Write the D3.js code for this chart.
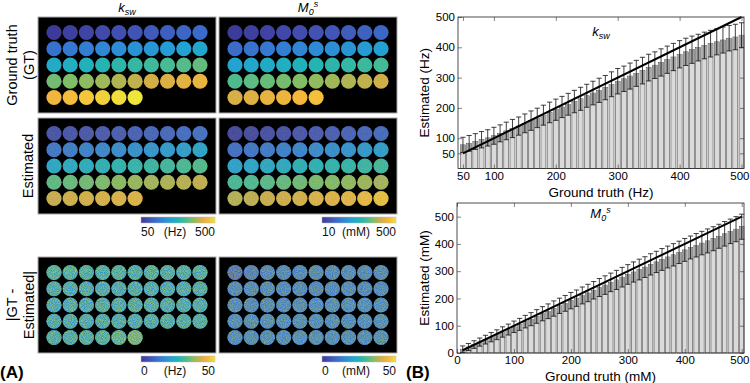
<!DOCTYPE html>
<html lang="en">
<head>
<meta charset="utf-8">
<title>ksw / M0s phantom</title>
<script src="https://cdn.jsdelivr.net/npm/d3@7"></script>
<style>
  body { margin: 0; background: #fff; }
  svg { font-family: "Liberation Sans", Arial, Helvetica, sans-serif; }
</style>
</head>
<body>
<script>

// ---- data ----
var kswGT = [50,60,70,80,90,100,110,120,130,140,150,160,170,180,190,200,210,220,230,240,
             250,260,270,280,290,300,310,320,330,340,350,360,370,380,390,400,410,420,430,440,
             450,460,470,480,490,500];
var kswMean = [78,83,89,95,101,108,116,124,132,140,149,158,167,176,185,194,203,212,221,230,
               240,249,258,267,278,288,296,305,314,323,333,341,350,359,368,377,385,392,399,406,
               412,418,424,430,434,440];
var kswSD = [25,26,26,27,27,28,28,29,30,30,31,32,32,33,34,35,35,36,37,38,
             38,39,40,40,41,42,42,43,43,44,44,44,45,45,45,45,45,45,44,44,
             44,43,43,42,42,41];
// mean |GT - estimated| per vial (Hz), read from the colour of the error map
var kswErr = [26,25,25,25,24,24,24,23,23,23,22,22,22,22,22,22,22,22,22,22,
              22,22,22,22,22,22,22,22,22,22,22,22,22,22,22,22,22,23,23,24,
              23,23,24,25,29,33];

var m0GT = [10,20,30,40,50,60,70,80,90,100,110,120,130,140,150,160,170,180,190,200,
            210,220,230,240,250,260,270,280,290,300,310,320,330,340,350,360,370,380,390,400,
            410,420,430,440,450,460,470,480,490,500];
var m0Mean = [14,22,31,40,49,58,67,77,86,96,105,115,124,134,144,153,163,173,182,192,
              201,211,220,230,240,249,259,268,278,288,297,306,315,325,334,343,352,360,369,378,
              387,395,403,411,419,428,437,446,454,463];
var m0SD = [12,13,14,15,16,17,18,19,20,21,22,23,24,25,26,27,28,28,29,30,
            30,31,32,32,33,34,34,35,36,36,37,38,38,39,39,40,40,41,41,42,
            42,43,43,44,44,44,45,45,46,46];
var m0Err = [7,10,11,12,12,12,12,12,12,12,12,12,12,12,12,12,12,12,12,12,
             12,12,12,12,12,13,13,13,13,13,13,13,13,13,13,13,13,13,13,13,
             13,13,13,13,13,13,13,13,13,13];
// the GT M0 map only shows the first 46 vials
var m0PhantomCount = 46;

var kswXTicks = [50,100,200,300,400,500];
var kswYTicks = [50,100,200,300,400,500];
var m0Ticks = [0,100,200,300,400,500];

// ---- setup ----
var W = 750, H = 383;
var svg = d3.select("body").append("svg").attr("width", W).attr("height", H);
var defs = svg.append("defs");

var parula = d3.piecewise(d3.interpolateRgb, [
    "#3d3b9a","#4350b3","#3b6bca","#2f88d6","#22a2d2","#22b3b7",
    "#47bb93","#86bd62","#d2ae46","#f5b73c","#eee63a"]);

var grad = defs.append("linearGradient").attr("id", "parulaGrad");
grad.selectAll("stop")
    .data(d3.range(0, 21))
    .enter().append("stop")
    .attr("offset", d => (d * 5) + "%")
    .attr("stop-color", d => parula(d / 20));

var panelW = 178, panelH = 96;

// speckle texture for the noisy maps
function addNoise(id, alpha, seed) {
    var f = defs.append("filter").attr("id", id)
                .attr("filterUnits", "userSpaceOnUse")
                .attr("x", 0).attr("y", 0).attr("width", panelW).attr("height", panelH)
                .attr("color-interpolation-filters", "sRGB");
    f.append("feTurbulence").attr("type", "fractalNoise").attr("baseFrequency", 1.1)
     .attr("numOctaves", 1).attr("seed", seed).attr("result", "t");
    f.append("feColorMatrix").attr("in", "t").attr("type", "matrix")
     .attr("values", "1.3 0 0 0 -0.1  0.8 0 0 0 0.27  -1.3 0 0 0 1.2  0 0 0 0 " + alpha)
     .attr("result", "c");
    f.append("feComposite").attr("in", "c").attr("in2", "SourceGraphic").attr("operator", "in");
}
addNoise("nzEst1", 0.16, 2);
addNoise("nzEst2", 0.16, 5);
addNoise("nzErr1", 0.55, 7);
addNoise("nzErr2", 0.45, 11);

var colX = d3.scalePoint().domain(d3.range(10)).range([16, 162]);
var rowY = d3.scalePoint().domain(d3.range(5)).range([15.5, 80.5]);

function imagePanel(x0, y0, vals, lo, hi, noise) {
    var g = svg.append("g").attr("transform", "translate(" + x0 + "," + y0 + ")");
    g.append("rect")
     .attr("width", panelW).attr("height", panelH)
     .attr("fill", "#000").attr("stroke", "#a9a9a9").attr("stroke-width", 1);
    var c = d3.scaleLinear().domain([lo, hi]).range([0, 1]).clamp(true);
    g.selectAll("circle.v")
     .data(vals).enter().append("circle")
     .attr("class", "v")
     .attr("cx", (d, i) => colX(i % 10))
     .attr("cy", (d, i) => rowY(Math.floor(i / 10)))
     .attr("r", 7.6)
     .attr("fill", d => parula(c(d)));
    if (noise) {
        g.append("g").attr("filter", "url(#" + noise + ")")
         .selectAll("circle")
         .data(vals).enter().append("circle")
         .attr("cx", (d, i) => colX(i % 10))
         .attr("cy", (d, i) => rowY(Math.floor(i / 10)))
         .attr("r", 7.6)
         .attr("fill", "#fff");
    }
}

function colorbar(xRight, y, lo, unit, hi) {
    var w = 74;
    svg.append("rect").attr("x", xRight - w).attr("y", y).attr("width", w).attr("height", 6)
       .attr("fill", "url(#parulaGrad)").attr("stroke", "#bbb").attr("stroke-width", 0.5);
    var t = svg.append("g").attr("font-size", "12px").attr("fill", "#111");
    t.append("text").attr("x", xRight - w).attr("y", y + 19).text(lo);
    t.append("text").attr("x", xRight - w / 2 - 3).attr("y", y + 19).attr("text-anchor", "middle").text(unit);
    t.append("text").attr("x", xRight).attr("y", y + 19).attr("text-anchor", "end").text(hi);
}

// ---- (A) maps ----
var colLeft = [38, 219];
var rowTop = [17, 118, 257];

imagePanel(colLeft[0], rowTop[0], kswGT, 50, 500, null);
imagePanel(colLeft[1], rowTop[0], m0GT.slice(0, m0PhantomCount), 10, 500, null);
imagePanel(colLeft[0], rowTop[1], kswMean, 50, 500, "nzEst1");
imagePanel(colLeft[1], rowTop[1], m0Mean, 10, 500, "nzEst2");
imagePanel(colLeft[0], rowTop[2], kswErr, 0, 50, "nzErr1");
imagePanel(colLeft[1], rowTop[2], m0Err, 0, 50, "nzErr2");

colorbar(colLeft[0] + panelW - 1, 217, "50", "(Hz)", "500");
colorbar(colLeft[1] + panelW - 1, 217, "10", "(mM)", "500");
colorbar(colLeft[0] + panelW - 1, 356, "0", "(Hz)", "50");
colorbar(colLeft[1] + panelW - 1, 356, "0", "(mM)", "50");

// column titles
function kswLabel(sel, x, y) {
    var t = sel.append("text").attr("x", x).attr("y", y).attr("text-anchor", "middle")
               .attr("font-size", "13px").attr("font-style", "italic");
    t.append("tspan").text("k");
    t.append("tspan").attr("dy", 3).attr("font-size", "9px").text("sw");
}
function m0Label(sel, x, y) {
    var t = sel.append("text").attr("x", x).attr("y", y).attr("text-anchor", "middle")
               .attr("font-size", "13px").attr("font-style", "italic");
    t.append("tspan").text("M");
    t.append("tspan").attr("dy", 3).attr("font-size", "9px").text("0");
    t.append("tspan").attr("dy", -8).attr("font-size", "9px").text("s");
}
kswLabel(svg, colLeft[0] + panelW / 2, 11.5);
m0Label(svg, colLeft[1] + panelW / 2, 11.5);

// row titles
function rowLabel(lines, cy) {
    var t = svg.append("text").attr("font-size", "14.5px").attr("text-anchor", "middle")
               .attr("transform", "translate(0," + cy + ") rotate(-90)");
    lines.forEach(function(l) {
        t.append("tspan").attr("x", 0).attr("y", l[1]).text(l[0]);
    });
}
rowLabel([["Ground truth", 17], ["(GT)", 34]], rowTop[0] + panelH / 2);
rowLabel([["Estimated", 33]], rowTop[1] + panelH / 2);
rowLabel([["|GT -", 17], ["Estimated|", 34]], rowTop[2] + panelH / 2);

svg.append("text").attr("x", 0).attr("y", 378).attr("font-size", "17px")
   .attr("font-weight", "bold").text("(A)");
svg.append("text").attr("x", 406).attr("y", 378).attr("font-size", "17px")
   .attr("font-weight", "bold").text("(B)");

// ---- (B) bar charts ----
function barChart(o) {
    var x = d3.scaleLinear().domain(o.xDom).range([o.left, o.right]);
    var y = d3.scaleLinear().domain(o.yDom).range([o.bottom, o.top]);
    var g = svg.append("g");
    var bw = (x(o.gt[1]) - x(o.gt[0])) * 0.8;
    var rows = o.gt.map((d, i) => ({g: d, m: o.mean[i], s: o.sd[i]}));

    g.selectAll("rect.bar").data(rows).enter().append("rect")
     .attr("class", "bar")
     .attr("x", d => x(d.g) - bw / 2).attr("width", bw)
     .attr("y", d => y(d.m)).attr("height", d => y(o.yDom[0]) - y(d.m))
     .attr("fill", "#dadada").attr("stroke", "#333").attr("stroke-width", 0.5);

    g.selectAll("rect.box").data(rows).enter().append("rect")
     .attr("class", "box")
     .attr("x", d => x(d.g) - bw / 2 + 0.4).attr("width", bw - 0.8)
     .attr("y", d => y(d.m)).attr("height", d => y(d.m - d.s) - y(d.m))
     .attr("fill", "#a0a0a0");

    var cap = 2.6;
    var eb = g.selectAll("g.eb").data(rows).enter().append("g")
              .attr("class", "eb").attr("stroke", "#111").attr("stroke-width", 0.8);
    eb.append("line").attr("x1", d => x(d.g)).attr("x2", d => x(d.g))
      .attr("y1", d => y(d.m - d.s)).attr("y2", d => y(d.m + d.s));
    eb.append("line").attr("x1", d => x(d.g) - cap).attr("x2", d => x(d.g) + cap)
      .attr("y1", d => y(d.m + d.s)).attr("y2", d => y(d.m + d.s));
    eb.append("line").attr("x1", d => x(d.g) - cap).attr("x2", d => x(d.g) + cap)
      .attr("y1", d => y(d.m - d.s)).attr("y2", d => y(d.m - d.s));

    // identity line
    var first = o.gt[0], last = o.gt[o.gt.length - 1];
    g.append("line")
     .attr("x1", x(first)).attr("y1", y(first))
     .attr("x2", x(last)).attr("y2", y(last))
     .attr("stroke", "#000").attr("stroke-width", 2);

    // axes (ticks pointing in, box on)
    var fs = "11.5px";
    var ax = g.append("g").attr("transform", "translate(0," + o.bottom + ")")
              .call(d3.axisBottom(x).tickValues(o.xTicks).tickSizeInner(-4).tickSizeOuter(0).tickPadding(3));
    g.append("g").attr("transform", "translate(0," + o.top + ")")
     .call(d3.axisTop(x).tickValues(o.xTicks).tickSizeInner(-4).tickSizeOuter(0).tickFormat(""));
    var ay = g.append("g").attr("transform", "translate(" + o.left + ",0)")
              .call(d3.axisLeft(y).tickValues(o.yTicks).tickSizeInner(-4).tickSizeOuter(0).tickPadding(3));
    g.append("g").attr("transform", "translate(" + o.right + ",0)")
     .call(d3.axisRight(y).tickValues(o.yTicks).tickSizeInner(-4).tickSizeOuter(0).tickFormat(""));
    g.selectAll(".domain").remove();
    g.selectAll(".tick line").attr("stroke", "#333").attr("stroke-width", 0.6);
    g.selectAll(".tick text").attr("font-size", fs).attr("fill", "#000")
     .attr("font-family", "Liberation Sans, Arial, sans-serif");
    // keep the last x label inside the page
    var lastTick = o.xTicks[o.xTicks.length - 1];
    ax.selectAll(".tick text").filter(d => d === lastTick)
      .attr("text-anchor", "end").attr("x", 749 - x(lastTick));

    g.append("rect").attr("x", o.left).attr("y", o.top)
     .attr("width", o.right - o.left).attr("height", o.bottom - o.top)
     .attr("fill", "none").attr("stroke", "#222").attr("stroke-width", 0.8);

    g.append("text").attr("x", (o.left + o.right) / 2).attr("y", o.bottom + 28)
     .attr("text-anchor", "middle").attr("font-size", "13.5px").text(o.xTitle);
    g.append("text").attr("transform", "translate(429," + (o.top + o.bottom) / 2 + ") rotate(-90)")
     .attr("text-anchor", "middle").attr("font-size", "13.5px").text(o.yTitle);

    o.label(g, (o.left + o.right) / 2, o.top + o.labelDy);
}

barChart({
    gt: kswGT, mean: kswMean, sd: kswSD,
    xDom: [42, 504], yDom: [0, 500],
    left: 458, right: 744, top: 17, bottom: 168.5,
    xTicks: kswXTicks, yTicks: kswYTicks,
    xTitle: "Ground truth (Hz)", yTitle: "Estimated (Hz)",
    label: kswLabel, labelDy: 19
});

barChart({
    gt: m0GT, mean: m0Mean, sd: m0SD,
    xDom: [0, 504], yDom: [0, 550],
    left: 457, right: 744, top: 203, bottom: 353,
    xTicks: m0Ticks, yTicks: m0Ticks,
    xTitle: "Ground truth (mM)", yTitle: "Estimated (mM)",
    label: m0Label, labelDy: 15
});

</script>
</body>
</html>
